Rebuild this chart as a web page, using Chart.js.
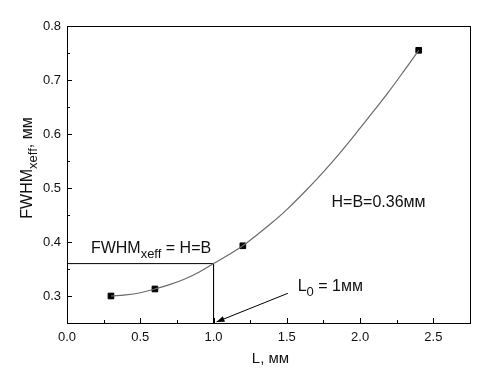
<!DOCTYPE html>
<html lang="ru">
<head>
  <meta charset="UTF-8" />
  <title>FWHM vs L</title>
  <script src="https://cdn.jsdelivr.net/npm/chart.js"></script>
  <style>
    body { margin: 0; background: #fff; }
    canvas { display: block; }
  </style>
</head>
<body>
  <canvas id="chart" width="497" height="384"></canvas>

  <script>
    // measured points
    const measL = [0.3, 0.6, 1.2, 2.4];
    const measFWHM = [0.300, 0.313, 0.393, 0.755];

    // fitted curve
    const fitL = [0.3, 0.4, 0.5, 0.6, 0.7, 0.8, 0.9, 1.0, 1.1, 1.2, 1.3, 1.4, 1.5, 1.6, 1.7, 1.8, 1.9, 2.0, 2.1, 2.2, 2.3, 2.4];
    const fitFWHM = [0.300, 0.302, 0.306, 0.313, 0.321, 0.331, 0.344, 0.360, 0.376, 0.393, 0.414, 0.436, 0.460, 0.487, 0.515, 0.545, 0.577, 0.611, 0.645, 0.680, 0.717, 0.755];

    // guide lines H=B and L0
    const guideL = [0, 1.0, 1.0];
    const guideFWHM = [0.36, 0.36, 0.25];
    const arrowL = [1.507, 1.02];
    const arrowFWHM = [0.305, 0.252];

    const xTicks = [0, 0.5, 1.0, 1.5, 2.0, 2.5];
    const xMinor = [0.25, 0.75, 1.25, 1.75, 2.25];
    const yTicks = [0.3, 0.4, 0.5, 0.6, 0.7, 0.8];
    const yMinor = [0.35, 0.45, 0.55, 0.65, 0.75];

    const FONT = "'Liberation Sans', Arial, sans-serif";
    const pts = (xs, ys) => xs.map((x, i) => ({ x: x, y: ys[i] }));

    function richText(ctx, parts, x, y) {
      let cx = x;
      parts.forEach(p => {
        ctx.font = p.size + "px " + FONT;
        ctx.fillText(p.t, cx, y + (p.dy || 0));
        cx += ctx.measureText(p.t).width;
      });
      return cx - x;
    }

    const decor = {
      id: "decor",
      afterDraw(chart) {
        const ctx = chart.ctx;
        const a = chart.chartArea;
        const xs = chart.scales.x, ys = chart.scales.y;
        ctx.save();
        ctx.strokeStyle = "#000";
        ctx.lineWidth = 1;

        // frame
        ctx.strokeRect(Math.round(a.left) + 0.5, Math.round(a.top) + 0.5,
          Math.round(a.right - a.left), Math.round(a.bottom - a.top));

        // inward ticks
        ctx.beginPath();
        xTicks.forEach(v => { const p = Math.round(xs.getPixelForValue(v)) + 0.5; ctx.moveTo(p, a.bottom); ctx.lineTo(p, a.bottom - 5); });
        xMinor.forEach(v => { const p = Math.round(xs.getPixelForValue(v)) + 0.5; ctx.moveTo(p, a.bottom); ctx.lineTo(p, a.bottom - 3); });
        yTicks.forEach(v => { const p = Math.round(ys.getPixelForValue(v)) + 0.5; ctx.moveTo(a.left, p); ctx.lineTo(a.left + 5, p); });
        yMinor.forEach(v => { const p = Math.round(ys.getPixelForValue(v)) + 0.5; ctx.moveTo(a.left, p); ctx.lineTo(a.left + 3, p); });
        ctx.stroke();

        // arrow head
        const tx = xs.getPixelForValue(arrowL[1]), ty = ys.getPixelForValue(arrowFWHM[1]);
        const fx = xs.getPixelForValue(arrowL[0]), fy = ys.getPixelForValue(arrowFWHM[0]);
        const ang = Math.atan2(ty - fy, tx - fx);
        ctx.fillStyle = "#000";
        ctx.beginPath();
        ctx.moveTo(tx, ty);
        ctx.lineTo(tx - 8 * Math.cos(ang) + 3 * Math.sin(ang), ty - 8 * Math.sin(ang) - 3 * Math.cos(ang));
        ctx.lineTo(tx - 8 * Math.cos(ang) - 3 * Math.sin(ang), ty - 8 * Math.sin(ang) + 3 * Math.cos(ang));
        ctx.closePath();
        ctx.fill();

        // annotations
        ctx.fillStyle = "#111";
        ctx.textBaseline = "alphabetic";
        ctx.textAlign = "left";
        richText(ctx, [{ t: "FWHM", size: 16 }, { t: "xeff", size: 13, dy: 5 }, { t: " = H=B", size: 16 }],
          xs.getPixelForValue(0.163), ys.getPixelForValue(0.38));
        richText(ctx, [{ t: "L", size: 16 }, { t: "0", size: 13, dy: 5 }, { t: " = 1мм", size: 16 }],
          xs.getPixelForValue(1.574), ys.getPixelForValue(0.31));
        richText(ctx, [{ t: "H=B=0.36мм", size: 16 }],
          xs.getPixelForValue(1.805), ys.getPixelForValue(0.465));

        // axis titles
        ctx.font = "15px " + FONT;
        ctx.textAlign = "center";
        ctx.fillText("L, мм", (a.left + a.right) / 2 + 2, 363);

        ctx.textAlign = "left";
        ctx.translate(32, 168);
        ctx.rotate(-Math.PI / 2);
        ctx.globalAlpha = 0;
        const w = richText(ctx, [{ t: "FWHM", size: 16 }, { t: "xeff", size: 13, dy: 5 }, { t: ", мм", size: 16 }], 0, 0);
        ctx.globalAlpha = 1;
        richText(ctx, [{ t: "FWHM", size: 16 }, { t: "xeff", size: 13, dy: 5 }, { t: ", мм", size: 16 }], -w / 2, 0);
        ctx.restore();
      }
    };

    new Chart(document.getElementById("chart"), {
      type: "scatter",
      data: {
        datasets: [
          {
            label: "fit",
            type: "line",
            data: pts(fitL, fitFWHM),
            borderColor: "#6a6a6a",
            borderWidth: 1.2,
            pointRadius: 0,
            tension: 0.4,
            fill: false
          },
          {
            label: "guide",
            type: "line",
            data: pts(guideL, guideFWHM),
            borderColor: "#000",
            borderWidth: 1,
            pointRadius: 0,
            tension: 0,
            fill: false
          },
          {
            label: "arrow",
            type: "line",
            data: pts(arrowL, arrowFWHM),
            borderColor: "#000",
            borderWidth: 1,
            pointRadius: 0,
            tension: 0,
            fill: false
          },
          {
            label: "measured",
            data: pts(measL, measFWHM),
            pointStyle: "rect",
            pointRadius: 4,
            backgroundColor: "#000",
            borderColor: "#000",
            borderWidth: 1
          }
        ]
      },
      options: {
        responsive: false,
        animation: false,
        layout: { padding: { top: 26, right: 27, left: 0, bottom: 0 } },
        plugins: {
          legend: { display: false },
          tooltip: { enabled: false }
        },
        scales: {
          x: {
            type: "linear",
            min: 0,
            max: 2.75,
            afterBuildTicks: s => { s.ticks = xTicks.map(v => ({ value: v })); },
            afterFit: s => { s.height = 61; },
            grid: { display: false, drawTicks: false },
            border: { display: false },
            ticks: {
              padding: 7,
              color: "#111",
              font: { family: FONT, size: 13 },
              callback: v => v.toFixed(1)
            }
          },
          y: {
            type: "linear",
            min: 0.25,
            max: 0.8,
            afterBuildTicks: s => { s.ticks = yTicks.map(v => ({ value: v })); },
            afterFit: s => { s.width = 67; },
            grid: { display: false, drawTicks: false },
            border: { display: false },
            ticks: {
              padding: 6,
              color: "#111",
              font: { family: FONT, size: 13 },
              callback: v => v.toFixed(1)
            }
          }
        }
      },
      plugins: [decor]
    });
  </script>
</body>
</html>
